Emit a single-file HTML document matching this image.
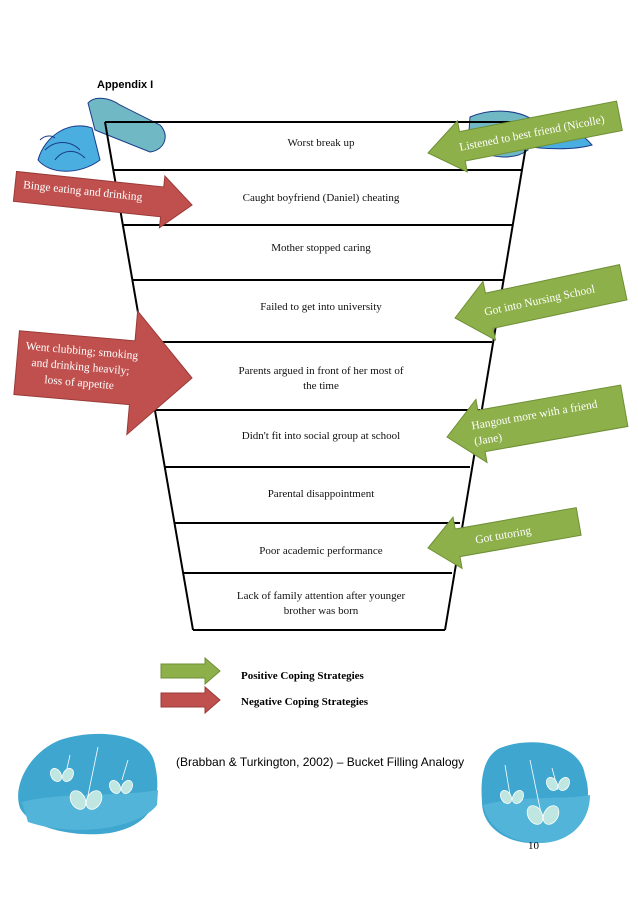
<!DOCTYPE html>
<html><head><meta charset="utf-8"><style>
html,body{margin:0;padding:0;background:#fff}
svg{display:block}
.c{font-family:"Liberation Serif",serif;font-size:11px;fill:#111}
.w{font-family:"Liberation Serif",serif;font-size:11.5px;fill:#fff}
</style></head><body>
<svg width="638" height="903" viewBox="0 0 638 903" xmlns="http://www.w3.org/2000/svg">
<text x="97" y="88" font-family="Liberation Sans,sans-serif" font-size="11" font-weight="bold">Appendix I</text>

<!-- buckets decoration -->
<g>
<path d="M88,103 C95,95 110,98 120,105 L160,125 C170,135 165,150 150,152 L95,130 Z" fill="#6fb8c4" stroke="#1a3a8a" stroke-width="1"/>
<path d="M92,128 C70,120 45,135 38,160 C50,175 80,175 100,160 Z" fill="#4aaee0" stroke="#1a3a8a" stroke-width="1"/>
<path d="M45,150 C55,140 70,140 80,150 M55,160 C62,150 75,148 85,158" fill="none" stroke="#1a3a8a"/>
<path d="M40,140 C45,135 52,135 55,138" fill="none" stroke="#1a3a8a"/>
<path d="M470,117 C490,108 515,110 530,118 L528,150 C515,160 490,160 468,145 Z" fill="#6fb8c4" stroke="#1a3a8a" stroke-width="1"/>
<path d="M520,130 C545,118 575,125 592,145 C575,150 545,150 518,145 Z" fill="#4aaee0" stroke="#1a3a8a" stroke-width="1"/>
</g>

<!-- bucket -->
<g stroke="#000" stroke-width="2" fill="none">
<line x1="105" y1="122" x2="193" y2="630"/>
<line x1="530" y1="122" x2="445" y2="630"/>
<line x1="105" y1="122" x2="530" y2="122"/>
<line x1="113" y1="170" x2="522" y2="170"/>
<line x1="122" y1="225" x2="512" y2="225"/>
<line x1="132" y1="280" x2="503" y2="280"/>
<line x1="143" y1="342" x2="492" y2="342"/>
<line x1="155" y1="410" x2="480" y2="410"/>
<line x1="165" y1="467" x2="470" y2="467"/>
<line x1="175" y1="523" x2="460" y2="523"/>
<line x1="184" y1="573" x2="452" y2="573"/>
<line x1="193" y1="630" x2="445" y2="630"/>
</g>
<g class="c" text-anchor="middle">
<text x="321" y="146">Worst break up</text>
<text x="321" y="201">Caught boyfriend (Daniel) cheating</text>
<text x="321" y="251">Mother stopped caring</text>
<text x="321" y="310">Failed to get into university</text>
<text x="321" y="374">Parents argued in front of her most of</text>
<text x="321" y="389">the time</text>
<text x="321" y="439">Didn't fit into social group at school</text>
<text x="321" y="497">Parental disappointment</text>
<text x="321" y="554">Poor academic performance</text>
<text x="321" y="599">Lack of family attention after younger</text>
<text x="321" y="614">brother was born</text>
</g>

<!-- green arrows -->
<g transform="translate(428,153) rotate(-11)">
<polygon points="0,0 35,-26 35,-15 195,-15 195,15 35,15 35,26" fill="#8db04a" stroke="#6e8f35"/>
<text class="w" x="32" y="4">Listened to best friend (Nicolle)</text>
</g>
<g transform="translate(455,318) rotate(-12)">
<polygon points="0,0 35,-30 35,-18 172,-18 172,18 35,18 35,30" fill="#8db04a" stroke="#6e8f35"/>
<text class="w" x="30" y="4">Got into Nursing School</text>
</g>
<g transform="translate(447,437) rotate(-10)">
<polygon points="0,0 35,-32 35,-21 180,-21 180,21 35,21 35,32" fill="#8db04a" stroke="#6e8f35"/>
<text class="w" x="26" y="-3">Hangout more with a friend</text>
<text class="w" x="26" y="13">(Jane)</text>
</g>
<g transform="translate(428,548) rotate(-10)">
<polygon points="0,0 30,-26 30,-14 153,-14 153,14 30,14 30,26" fill="#8db04a" stroke="#6e8f35"/>
<text class="w" x="48" y="4">Got tutoring</text>
</g>

<!-- red arrows -->
<g transform="translate(192,205) rotate(6)">
<polygon points="0,0 -30,-26 -30,-15 -178,-15 -178,15 -30,15 -30,26" fill="#c0504d" stroke="#9a3b38"/>
<text class="w" x="-170" y="1">Binge eating and drinking</text>
</g>
<g transform="translate(192,378) rotate(5)">
<polygon points="0,0 -60,-62 -60,-32 -176,-32 -176,32 -60,32 -60,62" fill="#c0504d" stroke="#9a3b38"/>
<text class="w" x="-112" y="-14" text-anchor="middle">Went clubbing; smoking</text>
<text class="w" x="-112" y="2" text-anchor="middle">and drinking heavily;</text>
<text class="w" x="-112" y="18" text-anchor="middle">loss of appetite</text>
</g>

<!-- legend -->
<polygon points="161,664 205,664 205,658 220,671 205,684 205,678 161,678" fill="#8db04a" stroke="#6e8f35"/>
<polygon points="161,693 205,693 205,687 220,700 205,713 205,707 161,707" fill="#c0504d" stroke="#9a3b38"/>
<text x="241" y="679" font-family="Liberation Serif,serif" font-size="11" font-weight="bold">Positive Coping Strategies</text>
<text x="241" y="705" font-family="Liberation Serif,serif" font-size="11" font-weight="bold">Negative Coping Strategies</text>

<!-- ponds -->
<path d="M60,740 C95,728 150,732 155,765 C162,795 155,825 110,833 C75,838 30,828 20,808 C12,785 30,752 60,740 Z" fill="#3fa6cf"/>
<path d="M22,802 C60,792 120,797 158,790 L157,805 C140,828 75,838 28,822 Z" fill="#52b4d8"/>
<path d="M500,748 C530,736 580,742 585,775 C595,805 580,838 540,843 C508,845 482,828 482,802 C480,777 484,756 500,748 Z" fill="#3fa6cf"/>
<path d="M483,805 C520,795 565,800 590,795 C590,822 570,843 540,843 C510,843 488,828 483,805 Z" fill="#52b4d8"/>
<g stroke="#fff" stroke-width="0.8" fill="none">
<line x1="98" y1="747" x2="86" y2="805"/><line x1="70" y1="755" x2="66" y2="773"/><line x1="128" y1="760" x2="122" y2="780"/>
<line x1="530" y1="760" x2="542" y2="818"/><line x1="505" y1="765" x2="510" y2="795"/><line x1="552" y1="768" x2="558" y2="790"/>
</g>
<g fill="#bfe6e0" stroke="#fff" stroke-width="0.8">
<ellipse cx="78" cy="800" rx="7" ry="10" transform="rotate(-30 78 800)"/><ellipse cx="94" cy="800" rx="7" ry="10" transform="rotate(30 94 800)"/>
<ellipse cx="56" cy="775" rx="5" ry="7" transform="rotate(-30 56 775)"/><ellipse cx="68" cy="775" rx="5" ry="7" transform="rotate(30 68 775)"/>
<ellipse cx="115" cy="787" rx="5" ry="7" transform="rotate(-30 115 787)"/><ellipse cx="127" cy="787" rx="5" ry="7" transform="rotate(30 127 787)"/>
<ellipse cx="535" cy="815" rx="7" ry="10" transform="rotate(-30 535 815)"/><ellipse cx="551" cy="815" rx="7" ry="10" transform="rotate(30 551 815)"/>
<ellipse cx="506" cy="797" rx="5" ry="7" transform="rotate(-30 506 797)"/><ellipse cx="518" cy="797" rx="5" ry="7" transform="rotate(30 518 797)"/>
<ellipse cx="552" cy="784" rx="5" ry="7" transform="rotate(-30 552 784)"/><ellipse cx="564" cy="784" rx="5" ry="7" transform="rotate(30 564 784)"/>
</g>
<text x="176" y="766" font-family="Liberation Sans,sans-serif" font-size="12">(Brabban &amp; Turkington, 2002) – Bucket Filling Analogy</text>
<text x="528" y="849" font-family="Liberation Serif,serif" font-size="11">10</text>
</svg>
</body></html>
